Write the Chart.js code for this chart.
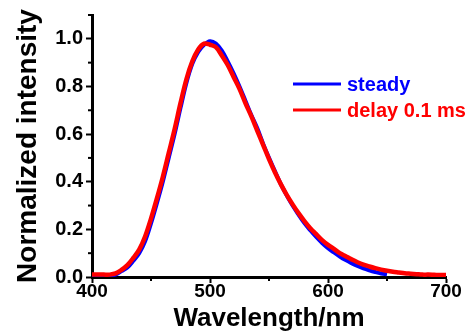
<!DOCTYPE html>
<html>
<head>
<meta charset="utf-8">
<script src="https://cdn.jsdelivr.net/npm/chart.js@4/dist/chart.umd.min.js"></script>
<style>
html,body{margin:0;padding:0;background:#fff;}
#wrap{width:469px;height:334px;}
</style>
</head>
<body>
<div id="wrap"><canvas id="c" width="469" height="334"></canvas></div>
<script>
// Wavelength (nm)
const wavelengthsDelay = [400,405,410,415,420,425,430,435,440,445,450,455,460,465,470,475,480,485,490,495,500,505,510,515,520,525,530,535,540,545,550,555,560,565,570,575,580,585,590,595,600,605,610,615,620,625,630,635,640,645,650,655,660,665,670,675,680,685,690,695,700];
const delayValues = [0.010,0.010,0.010,0.010,0.015,0.030,0.050,0.080,0.115,0.170,0.245,0.330,0.420,0.520,0.620,0.730,0.830,0.905,0.955,0.980,0.975,0.965,0.930,0.890,0.840,0.790,0.730,0.675,0.615,0.555,0.495,0.440,0.390,0.345,0.305,0.268,0.235,0.205,0.180,0.155,0.135,0.118,0.100,0.087,0.074,0.062,0.052,0.044,0.037,0.031,0.026,0.022,0.019,0.016,0.014,0.012,0.010,0.010,0.009,0.008,0.008];
const wavelengthsSteady = [400,405,410,415,420,425,430,435,440,445,450,455,460,465,470,475,480,485,490,495,500,505,510,515,520,525,530,535,540,545,550,555,560,565,570,575,580,585,590,595,600,605,610,615,620,625,630,635,640,645,650];
const steadyValues = [0.005,0.005,0.005,0.006,0.010,0.025,0.040,0.068,0.100,0.150,0.225,0.310,0.400,0.500,0.600,0.710,0.815,0.895,0.945,0.975,0.990,0.980,0.950,0.905,0.855,0.800,0.740,0.680,0.625,0.560,0.500,0.445,0.390,0.343,0.300,0.262,0.226,0.196,0.168,0.143,0.121,0.103,0.086,0.071,0.058,0.046,0.036,0.028,0.021,0.015,0.011];
const seriesLabels = ['steady','delay 0.1 ms'];
const yTickValues = [0.0,0.2,0.4,0.6,0.8,1.0];
const xTickValues = [400,500,600,700];

const FONT = "'Liberation Sans', Arial, sans-serif";

function toPts(xs, ys){ return xs.map((x,i)=>({x:x,y:ys[i]})); }

const minorTicks = {
  id:'minorTicks',
  afterDraw(chart){
    const ctx = chart.ctx;
    const xs = chart.scales.x, ys = chart.scales.y;
    ctx.save();
    ctx.strokeStyle = '#000';
    ctx.lineWidth = 2;
    xs.ticks.forEach(t=>{
      if (!xTickValues.includes(t.value)) {
        const px = xs.getPixelForValue(t.value);
        ctx.beginPath(); ctx.moveTo(px, ys.bottom); ctx.lineTo(px, ys.bottom+4); ctx.stroke();
      }
    });
    ys.ticks.forEach(t=>{
      const isMajor = yTickValues.some(v=>Math.abs(v-t.value)<1e-6);
      if (!isMajor) {
        const py = ys.getPixelForValue(t.value);
        ctx.beginPath(); ctx.moveTo(xs.left, py); ctx.lineTo(xs.left-4, py); ctx.stroke();
      }
    });
    // legend
    const ca = chart.chartArea;
    ctx.font = 'bold 20px ' + FONT;
    ctx.textBaseline = 'middle';
    ctx.textAlign = 'left';
    chart.data.datasets.forEach((ds,i)=>{
      const y = ca.top + 69 + i*26;
      ctx.strokeStyle = ds.borderColor;
      ctx.lineWidth = 3;
      ctx.beginPath(); ctx.moveTo(ca.left+201, y); ctx.lineTo(ca.left+249, y); ctx.stroke();
      ctx.fillStyle = ds.borderColor;
      ctx.fillText(ds.label, ca.left+255, y+1);
    });
    ctx.restore();
  }
};

new Chart(document.getElementById('c'), {
  type:'line',
  data:{
    datasets:[
      {label:seriesLabels[0], data:toPts(wavelengthsSteady, steadyValues), borderColor:'#0000ff', borderWidth:4, pointRadius:0, tension:0.35, fill:false, order:1},
      {label:seriesLabels[1], data:toPts(wavelengthsDelay, delayValues), borderColor:'#ff0000', borderWidth:4.5, pointRadius:0, tension:0.35, fill:false, order:0}
    ]
  },
  options:{
    responsive:false,
    animation:false,
    devicePixelRatio:1,
    layout:{padding:{top:15,right:23,left:0,bottom:0}},
    plugins:{legend:{display:false}, tooltip:{enabled:false}},
    scales:{
      x:{
        type:'linear', min:400, max:700,
        afterFit(s){ s.height = 57; },
        border:{display:true,color:'#000',width:3},
        grid:{drawOnChartArea:false, tickLength:6, tickWidth:2,
          tickColor:(c)=> (c.tick && xTickValues.includes(c.tick.value)) ? '#000' : 'rgba(0,0,0,0)'},
        ticks:{stepSize:50, color:'#000', padding:-3, maxRotation:0, autoSkip:false,
          font:{family:FONT, size:19, weight:'bold'},
          callback:(v)=> xTickValues.includes(v) ? String(v) : ''},
        title:{display:true, text:'Wavelength/nm', color:'#000', padding:{top:0,bottom:0},
          font:{family:FONT, size:26, weight:'bold'}}
      },
      y:{
        type:'linear', min:0, max:1.1,
        afterFit(s){ s.width = 92; },
        border:{display:true,color:'#000',width:3},
        grid:{drawOnChartArea:false, tickLength:6, tickWidth:2,
          tickColor:(c)=> (c.tick && yTickValues.some(v=>Math.abs(v-c.tick.value)<1e-6)) ? '#000' : 'rgba(0,0,0,0)'},
        ticks:{stepSize:0.1, color:'#000', padding:3, autoSkip:false,
          font:{family:FONT, size:20, weight:'bold'},
          callback:(v)=> yTickValues.some(t=>Math.abs(t-v)<1e-6) ? v.toFixed(1) : ''},
        title:{display:true, text:'Normalized intensity', color:'#000', padding:{top:11,bottom:0},
          font:{family:FONT, size:28, weight:'bold'}}
      }
    }
  },
  plugins:[minorTicks]
});
</script>
</body>
</html>
